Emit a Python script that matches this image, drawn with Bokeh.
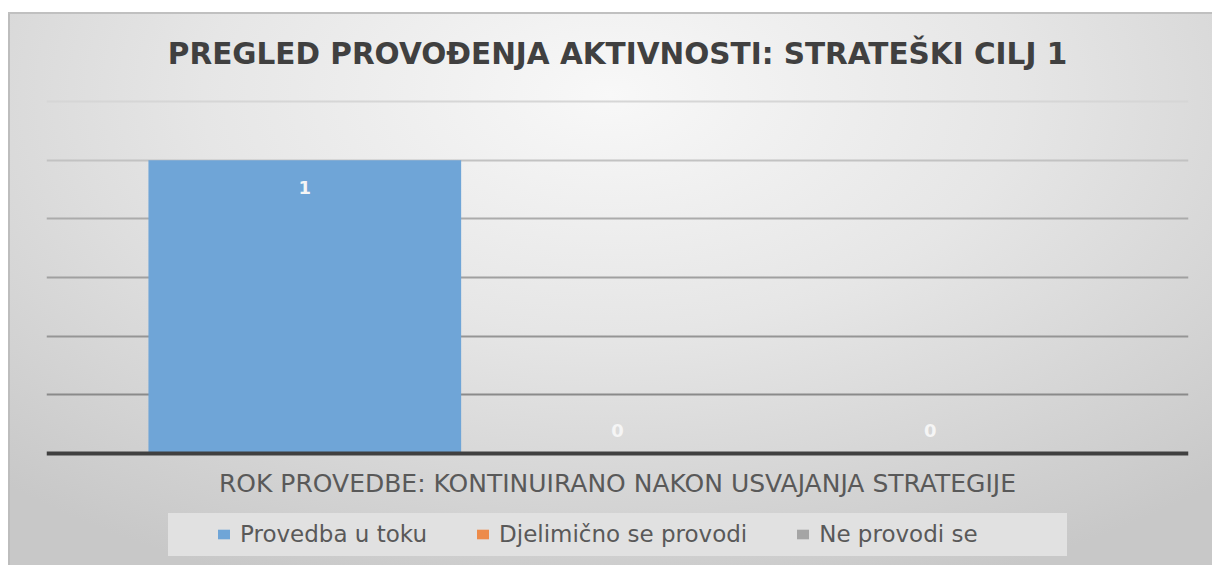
from bokeh.plotting import figure
from bokeh.models import ColumnDataSource, Range1d, FixedTicker, Legend, LegendItem, Span, Grid
from bokeh.embed import file_html
from bokeh.resources import INLINE
from bokeh.core.properties import value

title_text = "PREGLED PROVOĐENJA AKTIVNOSTI: STRATEŠKI CILJ 1"
category_label = "ROK PROVEDBE: KONTINUIRANO NAKON USVAJANJA STRATEGIJE"
series_names = ["Provedba u toku", "Djelimično se provodi", "Ne provodi se"]
series_values = [1, 0, 0]
series_colors = ["#6fa5d7", "#ed8b4a", "#a5a5a5"]
y_ticks = [0.2, 0.4, 0.6, 0.8, 1.0, 1.2]
grid_colors = ["#8a8a8a", "#959595", "#a0a0a0", "#ababab", "#c2c2c2", "#d6d6d6"]

FONT = "DejaVu Sans"

W, H = 1204, 553
B_LEFT, B_RIGHT = 38, 24
X0, X1 = -0.826, 2.826
Y0, Y1 = -0.3818, 1.5034

xs = list(range(len(series_names)))
src = ColumnDataSource(dict(
    x=xs,
    top=series_values,
    name=series_names,
    color=series_colors,
    label=[str(v) for v in series_values],
    yoff=[27 if v > 0 else -23 for v in series_values],
))
xc = sum(xs) / len(xs)
cat_src = ColumnDataSource(dict(x=[xc], y=[0], text=[category_label]))
title_src = ColumnDataSource(dict(x=[xc], y=[Y1], text=[title_text]))

p = figure(
    width=W, height=H,
    output_backend="svg", toolbar_location=None,
    x_range=Range1d(X0, X1), y_range=Range1d(Y0, Y1),
    min_border_left=B_LEFT, min_border_right=B_RIGHT,
    min_border_top=0, min_border_bottom=0,
)
p.margin = (12, 0, 0, 8)
p.styles = {
    "background": (
        "linear-gradient(#e1e1e1, #e1e1e1) 160px 501px / 899px 43px no-repeat, "
        "radial-gradient(ellipse 75% 95% at 50% 15%, #f8f8f8 0%, #e6e6e6 45%, #c8c8c8 100%)"
    ),
    "box-shadow": "inset 0 2px 0 #c0c0c0, inset 2px 0 0 #bdbdbd",
}
p.background_fill_alpha = 0
p.border_fill_alpha = 0
p.outline_line_color = None

p.axis.visible = False
p.xgrid.visible = False
p.ygrid.visible = False
for t, c in zip(y_ticks, grid_colors):
    p.add_layout(Grid(dimension=1, ticker=FixedTicker(ticks=[t]),
                      grid_line_color=c, grid_line_width=1.8))

bars = p.vbar(x="x", top="top", width=1.0, bottom=0, source=src,
              fill_color="color", line_color=None)

p.add_layout(Span(location=0, dimension="width", line_color="#404040", line_width=4))

# value labels
p.text(x="x", y="top", text="label", source=src, y_offset="yoff",
       text_align="center", text_baseline="middle",
       text_font=value(FONT), text_font_size="18px", text_font_style="bold",
       text_color="#f5f5f5")

# chart title
p.text(x="x", y="y", text="text", source=title_src, y_offset=41,
       text_align="center", text_baseline="middle",
       text_font=value(FONT), text_font_size="29.5px", text_font_style="bold",
       text_color="#404040")

# category axis title
p.text(x="x", y="y", text="text", source=cat_src, y_offset=30,
       text_align="center", text_baseline="middle",
       text_font=value(FONT), text_font_size="25px",
       text_color="#595959")

items = [LegendItem(label=n, renderers=[bars], index=i) for i, n in enumerate(series_names)]
legend = Legend(items=items, orientation="horizontal", location=(170, 18))
legend.label_text_font = FONT
legend.label_text_font_size = "23px"
legend.label_text_color = "#595959"
legend.glyph_width = 15
legend.glyph_height = 12
legend.label_standoff = 9
legend.spacing = 48
legend.padding = 8
legend.margin = 0
legend.background_fill_alpha = 0
legend.border_line_color = None
p.add_layout(legend)

open("out.html", "w").write(file_html(p, INLINE))
